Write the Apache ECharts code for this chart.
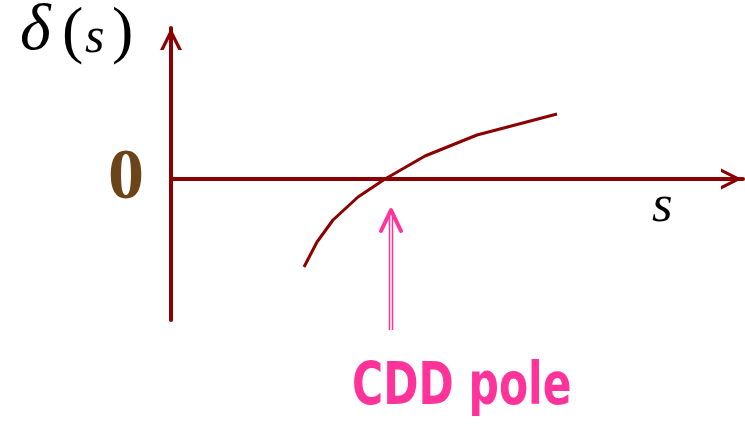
<!DOCTYPE html>
<html>
<head>
<meta charset="utf-8">
<script src="https://cdn.jsdelivr.net/npm/echarts@6/dist/echarts.min.js"></script>
<style>
html, body { margin: 0; padding: 0; background: #fff; }
#main { width: 745px; height: 424px; }
</style>
</head>
<body>
<div id="main"></div>
<script>
// curve delta(s)
var sValues = [133, 146, 162, 187, 214, 254, 306, 386];
var deltaValues = [-88, -63, -41, -18, 0, 23, 44, 65];
var yTicks = [0];
var polePoint = [220, 0];

var axisRed = '#8B0000';
var pink = '#FF3399';
var chevron = 'path://M0,20 L10,0 L20,20 L16.7,20 L10,6.6 L3.3,20 Z';

var curve = [];
for (var i = 0; i < sValues.length; ++i) {
    curve.push([sValues[i], deltaValues[i]]);
}

var myChart = echarts.init(document.getElementById('main'));

myChart.setOption({
    animation: false,
    grid: {
        left: 171,
        right: 2,
        top: 28,
        bottom: 104,
        containLabel: false,
        outerBoundsMode: 'none'
    },
    xAxis: {
        type: 'value',
        min: 0,
        max: 572,
        splitLine: { show: false },
        axisTick: { show: false },
        axisLabel: { show: false },
        axisLine: {
            onZero: true,
            symbol: ['none', chevron],
            symbolSize: [21, 23],
            symbolOffset: [0, -11.5],
            lineStyle: { color: axisRed, width: 4 }
        }
    },
    yAxis: {
        type: 'value',
        min: -141,
        max: 151,
        splitLine: { show: false },
        axisTick: { show: false },
        axisLabel: {
            customValues: yTicks,
            formatter: function (v) { return yTicks.indexOf(v) >= 0 ? String(v) : ''; },
            fontFamily: 'Liberation Serif',
            fontWeight: 'bold',
            fontSize: 72,
            color: '#6B4517',
            margin: 27,
            padding: [8, 0, 0, 0]
        },
        axisLine: {
            onZero: false,
            symbol: ['none', chevron],
            symbolSize: [23, 22],
            symbolOffset: [0, -11],
            lineStyle: { color: axisRed, width: 4 }
        }
    },
    series: [{
        type: 'line',
        data: curve,
        symbol: 'none',
        smooth: false,
        lineStyle: { color: axisRed, width: 3 }
    }]
});

// pole marker: double-shafted arrow pointing at the zero crossing
var p = myChart.convertToPixel({ gridIndex: 0 }, polePoint);
var tipY = p[1] + 31;
var tailY = p[1] + 151;

myChart.setOption({
    graphic: [
        { type: 'line', shape: { x1: p[0] - 1.5, y1: tipY + 6, x2: p[0] - 1.5, y2: tailY }, style: { stroke: pink, lineWidth: 1.5 } },
        { type: 'line', shape: { x1: p[0] + 1.5, y1: tipY + 6, x2: p[0] + 1.5, y2: tailY }, style: { stroke: pink, lineWidth: 1.5 } },
        { type: 'polyline', shape: { points: [[p[0] - 10, tipY + 21], [p[0], tipY], [p[0] + 10, tipY + 21]] }, style: { stroke: pink, lineWidth: 4, lineCap: 'round', lineJoin: 'round', fill: null } },
        { type: 'text', x: 352, y: 359, scaleX: 0.72, style: { text: 'CDD pole', font: 'bold 59px "DejaVu Sans"', fill: pink } },
        { type: 'text', x: 20, y: -1, style: { text: 'δ', font: 'italic 66px "Liberation Serif"', fill: '#000' } },
        { type: 'text', x: 62, y: 2, style: { text: '(', font: '64px "Liberation Serif"', fill: '#000' } },
        { type: 'text', x: 85, y: 14, style: { text: 's', font: 'italic 50px "Liberation Serif"', fill: '#000' } },
        { type: 'text', x: 112, y: 2, style: { text: ')', font: '64px "Liberation Serif"', fill: '#000' } },
        { type: 'text', x: 652, y: 181, style: { text: 's', font: 'italic 53px "Liberation Serif"', fill: '#000' } }
    ]
});
</script>
</body>
</html>
